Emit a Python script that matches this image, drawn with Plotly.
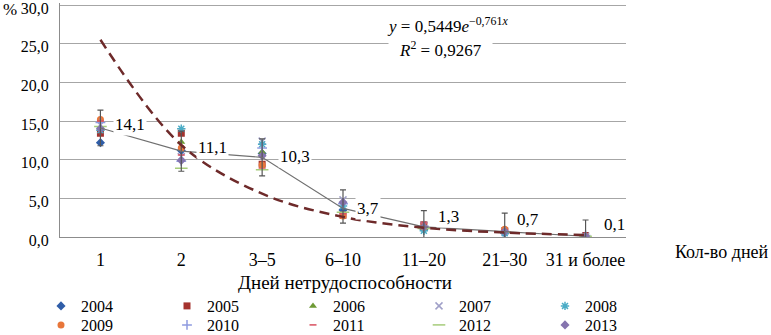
import plotly.graph_objects as go

categories = ["1", "2", "3–5", "6–10", "11–20", "21–30", "31 и более"]
years = ["2004", "2005", "2006", "2007", "2008", "2009", "2010", "2011", "2012", "2013"]

v2004 = [12.2, 11.2, 10.8, 3.5, 1.0, 0.5, 0.1]
v2005 = [13.4, 13.4, 9.4, 2.8, 1.6, 0.8, 0.2]
v2006 = [14.0, 12.3, 11.0, 4.6, 1.2, 0.6, 0.1]
v2007 = [14.5, 10.4, 12.4, 4.8, 1.5, 0.7, 0.1]
v2008 = [13.8, 14.0, 12.0, 4.0, 0.8, 0.5, 0.0]
v2009 = [15.2, 11.5, 9.3, 2.7, 1.3, 1.0, 0.1]
v2010 = [14.8, 9.8, 11.5, 4.3, 1.4, 0.7, 0.2]
v2011 = [15.0, 10.6, 8.8, 3.0, 1.8, 0.9, 0.1]
v2012 = [14.3, 8.9, 8.7, 3.2, 1.1, 0.6, 0.1]
v2013 = [14.0, 9.9, 10.5, 4.5, 1.3, 0.7, 0.1]
year_values = [v2004, v2005, v2006, v2007, v2008, v2009, v2010, v2011, v2012, v2013]

mean_values = [14.1, 11.1, 10.3, 3.7, 1.3, 0.7, 0.1]
err_plus = [2.3, 2.6, 2.4, 2.4, 2.1, 2.4, 2.1]
err_minus = [2.3, 2.6, 2.4, 1.9, 2.1, 2.4, 2.1]

trend_values = [25.5, 11.9, 5.6, 2.6, 1.2, 0.57, 0.27]

y_ticks = [0, 5, 10, 15, 20, 25, 30]

# styles
FONT = "Liberation Serif, Times New Roman, serif"
FS = 17
symbols = ["diamond", "square", "triangle-up", "x-thin-open", "asterisk-open",
           "circle", "cross-thin-open", "line-ew-open", "line-ew-open", "diamond"]
colors = ["#2F5DA8", "#A5322E", "#6E9A35", "#A0A0C8", "#4BACC6",
          "#E8763A", "#8E9BE0", "#D9505F", "#A6CC7A", "#8574AE"]
sizes = [7, 7, 7, 7, 7, 7, 7, 5, 9, 7]
legend_ids = ["legend"] * 5 + ["legend2"] * 5
label_shift = [(13, 3), (15, 4), (16, 1), (12, 0), (12, 10), (10, 12), (16, 12)]

W, H = 771, 335
X0, X1 = 60, 626
Y0, Y1 = 237, 3.45
Y_TOP = 30.2

fig = go.Figure()

for i, (yr, vals) in enumerate(zip(years, year_values)):
    open_sym = symbols[i].endswith("open")
    fig.add_trace(go.Scatter(
        x=categories, y=vals, mode="markers", name=yr,
        legend=legend_ids[i],
        marker=dict(symbol=symbols[i], size=sizes[i], color=colors[i],
                    line=dict(color=colors[i], width=1.5 if open_sym else 0)),
    ))

fig.add_trace(go.Scatter(
    x=categories, y=mean_values, mode="lines", showlegend=False,
    line=dict(color="#707070", width=1.2),
    error_y=dict(type="data", symmetric=False, array=err_plus, arrayminus=err_minus,
                 color="#555555", thickness=1.2, width=3),
))

fig.add_trace(go.Scatter(
    x=categories, y=trend_values, mode="lines", showlegend=False,
    line=dict(color="#6E2A2A", width=2.5, dash="10px,6px", shape="spline", smoothing=1.0),
))

for i, m in enumerate(mean_values):
    dx, dy = label_shift[i]
    fig.add_annotation(x=i, y=m, xref="x", yref="y", text=f"{m:.1f}".replace(".", ","),
                       showarrow=False, xanchor="left", yanchor="middle",
                       xshift=dx, yshift=dy, bgcolor="white", borderpad=1,
                       font=dict(family=FONT, size=FS, color="black"))

def px(xp):
    return xp / W

def py(yp):
    return (H - yp) / H

fig.add_annotation(x=px(388), y=py(49), xref="paper", yref="paper",
                   text="<i>R</i><sup>2</sup> = 0,9267",
                   showarrow=False, xanchor="left", yanchor="middle",
                   bgcolor="white", borderpad=10,
                   font=dict(family=FONT, size=FS, color="black"))
fig.add_annotation(x=px(385), y=py(25), xref="paper", yref="paper",
                   text="<i>y</i> = 0,5449<i>e</i><sup>−0,761<i>x</i></sup>",
                   showarrow=False, xanchor="left", yanchor="middle",
                   font=dict(family=FONT, size=FS, color="black"))
fig.add_annotation(x=px(1), y=py(10), xref="paper", yref="paper", text="%",
                   showarrow=False, xanchor="left", yanchor="middle",
                   font=dict(family=FONT, size=FS, color="black"))
fig.add_annotation(x=px(673), y=py(252), xref="paper", yref="paper", text="Кол-во дней",
                   showarrow=False, xanchor="left", yanchor="middle",
                   font=dict(family=FONT, size=18, color="black"))
fig.add_annotation(x=px(345), y=py(282), xref="paper", yref="paper",
                   text="Дней нетрудоспособности",
                   showarrow=False, xanchor="center", yanchor="middle",
                   font=dict(family=FONT, size=19, color="black"))

leg_common = dict(orientation="h", xref="container", yref="container",
                  yanchor="middle", xanchor="left", bgcolor="rgba(0,0,0,0)",
                  font=dict(family=FONT, size=16, color="black"), tracegroupgap=0,
                  itemsizing="trace", entrywidth=81, entrywidthmode="pixels")

fig.update_layout(
    width=W, height=H,
    margin=dict(l=0, r=0, t=0, b=0, autoexpand=False),
    paper_bgcolor="white", plot_bgcolor="white",
    separators=", ",
    showlegend=True,
    font=dict(family=FONT, size=FS, color="black"),
    xaxis=dict(domain=[px(X0), px(X1)], type="category", range=[-0.5, 6.5],
               showgrid=False, showline=True, linecolor="#8c8c8c", linewidth=1,
               ticks="", ticklabelstandoff=6, automargin=False,
               tickfont=dict(family=FONT, size=18, color="black"), fixedrange=True),
    yaxis=dict(domain=[py(Y0), py(Y1)], range=[0, Y_TOP], tickvals=y_ticks,
               tickformat=".1f", showgrid=True, gridcolor="#a6a6a6", gridwidth=1,
               showline=True, linecolor="#8c8c8c", linewidth=1, zeroline=False,
               ticks="", ticklabelstandoff=7, ticklabelshift=3,
               ticklabeloverflow="allow", automargin=False,
               tickfont=dict(family=FONT, size=16, color="black"), fixedrange=True),
    legend=dict(x=px(41), y=py(306), **leg_common),
    legend2=dict(x=px(41), y=py(325), **leg_common),
)

fig.write_html("out.html", config={"displayModeBar": False},
               post_script="document.body.style.margin='0';document.body.style.padding='0';")
